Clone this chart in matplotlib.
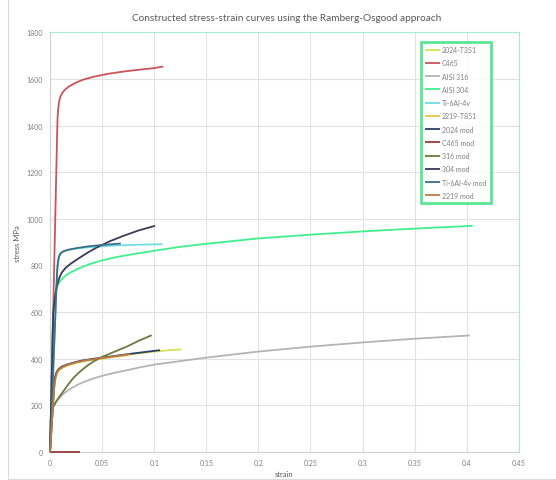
import matplotlib.pyplot as plt
from matplotlib.patches import Rectangle

# data (strain, stress MPa)
strain_2024 = [0, 0.0036, 0.0042, 0.005, 0.006, 0.0075, 0.0095, 0.012, 0.016, 0.022, 0.03, 0.04, 0.05, 0.065, 0.08, 0.1, 0.115, 0.126]
stress_2024 = [0, 260, 295, 320, 336, 348, 357, 364, 371, 379, 388, 396, 403, 411, 420, 431, 437, 440]

strain_c465 = [0, 0.0068, 0.0072, 0.0078, 0.0086, 0.0098, 0.0115, 0.014, 0.018, 0.024, 0.032, 0.042, 0.055, 0.07, 0.085, 0.1, 0.1088]
stress_c465 = [0, 1360, 1430, 1470, 1500, 1522, 1538, 1552, 1567, 1582, 1597, 1609, 1621, 1631, 1639, 1646, 1653]

strain_316 = [0, 0.0009, 0.002, 0.0035, 0.005, 0.007, 0.0096, 0.013, 0.017, 0.022, 0.028, 0.035, 0.042, 0.05,
              0.062, 0.075, 0.087, 0.1, 0.125, 0.15, 0.175, 0.2, 0.25, 0.3, 0.35, 0.403]
stress_316 = [0, 160, 182, 198, 210, 222, 235, 250, 264, 278, 292, 305, 316, 327,
              340, 352, 364, 375, 390, 405, 418, 431, 452, 470, 486, 500]

strain_304 = [0, 0.003, 0.0038, 0.0046, 0.0056, 0.0068, 0.0085, 0.011, 0.015, 0.02, 0.028, 0.038, 0.05, 0.065,
              0.08, 0.1, 0.125, 0.15, 0.2, 0.25, 0.3, 0.35, 0.4056]
stress_304 = [0, 580, 630, 665, 690, 708, 725, 740, 757, 771, 788, 806, 822, 837,
              849, 863, 880, 893, 916, 932, 946, 958, 970]

strain_ti = [0, 0.0062, 0.0068, 0.0074, 0.0082, 0.0092, 0.0105, 0.0125, 0.016, 0.022, 0.03, 0.045, 0.065, 0.085, 0.108]
stress_ti = [0, 710, 770, 805, 828, 843, 852, 859, 865, 870, 875, 881, 886, 889, 891]

strain_2219 = [0, 0.0036, 0.0044, 0.0054, 0.0066, 0.008, 0.01, 0.013, 0.018, 0.025, 0.035, 0.05, 0.065, 0.075]
stress_2219 = [0, 250, 290, 318, 335, 347, 356, 364, 373, 383, 392, 401, 410, 416]

strain_2024m = [0, 0.0036, 0.0042, 0.005, 0.006, 0.0075, 0.0095, 0.012, 0.016, 0.022, 0.03, 0.04, 0.05, 0.065, 0.08, 0.1056]
stress_2024m = [0, 265, 300, 325, 340, 352, 361, 368, 375, 383, 392, 399, 405, 414, 423, 437]

strain_c465m = [0, 0.029]
stress_c465m = [0, 0]

strain_316m = [0, 0.0009, 0.002, 0.0035, 0.005, 0.0075, 0.0096, 0.013, 0.0175, 0.0224, 0.028, 0.035, 0.042, 0.05,
               0.06, 0.0736, 0.085, 0.0976]
stress_316m = [0, 165, 182, 197, 210, 228, 241, 262, 290, 318, 342, 368, 389, 408,
               427, 452, 477, 501]

strain_304m = [0, 0.003, 0.004, 0.0052, 0.0066, 0.0085, 0.011, 0.015, 0.02, 0.027, 0.035, 0.0448, 0.057, 0.0704, 0.085, 0.1008]
stress_304m = [0, 590, 640, 680, 712, 742, 768, 790, 808, 829, 852, 877, 903, 927, 950, 970]

strain_tim = [0, 0.0062, 0.0068, 0.0075, 0.0084, 0.0095, 0.011, 0.0135, 0.018, 0.025, 0.035, 0.05, 0.068]
stress_tim = [0, 715, 775, 812, 835, 848, 856, 862, 868, 874, 881, 888, 894]

strain_2219m = [0, 0.0036, 0.0044, 0.0054, 0.0066, 0.008, 0.01, 0.013, 0.018, 0.025, 0.035, 0.05, 0.065, 0.077]
stress_2219m = [0, 255, 295, 322, 340, 351, 359, 367, 376, 385, 394, 403, 413, 420]

series = [
    ('2024-T351', strain_2024, stress_2024, '#d6e05a'),
    ('C465', strain_c465, stress_c465, '#c9545a'),
    ('AISI 316', strain_316, stress_316, '#b4b4b4'),
    ('AISI 304', strain_304, stress_304, '#3ef08e'),
    ('Ti-6Al-4v', strain_ti, stress_ti, '#6fdde6'),
    ('2219-T851', strain_2219, stress_2219, '#f2c14e'),
    ('2024 mod', strain_2024m, stress_2024m, '#2c3e66'),
    ('C465 mod', strain_c465m, stress_c465m, '#9a3c3c'),
    ('316 mod', strain_316m, stress_316m, '#6b7a3e'),
    ('304 mod', strain_304m, stress_304m, '#3c3a58'),
    ('Ti-6Al-4v mod', strain_tim, stress_tim, '#3a6e8a'),
    ('2219 mod', strain_2219m, stress_2219m, '#b97c48'),
]

xticks = [0, 0.05, 0.1, 0.15, 0.2, 0.25, 0.3, 0.35, 0.4, 0.45]
xticklabels = ['0', '0.05', '0.1', '0.15', '0.2', '0.25', '0.3', '0.35', '0.4', '0.45']
yticks = [0, 200, 400, 600, 800, 1000, 1200, 1400, 1600, 1800]

plt.rcParams['font.family'] = ['Lato', 'DejaVu Sans']

fig = plt.figure(figsize=(5.56, 4.81), dpi=100)
ax = fig.add_axes([0.090, 0.058, 0.843, 0.873])

for name, x, y, c in series:
    ax.plot(x, y, color=c, lw=1.3, label=name, clip_on=False, zorder=3,
            solid_joinstyle='round', solid_capstyle='butt')

ax.set_xlim(0, 0.45)
ax.set_ylim(0, 1800)
ax.set_xticks(xticks)
ax.set_xticklabels(xticklabels)
ax.set_yticks(yticks)
ax.tick_params(labelsize=5, colors='#7f7f7f', length=0, pad=5)
ax.grid(True, color='#e2e2e2', lw=0.8)
ax.set_axisbelow(True)
for s in ['left', 'bottom']:
    ax.spines[s].set_color('#d0d0d0')
for s in ['top', 'right']:
    ax.spines[s].set_color('#a8ecd2')

ax.set_xlabel('strain', fontsize=5.5, color='#595959', labelpad=3)
ax.set_ylabel('stress MPa', fontsize=5.5, color='#595959', labelpad=4)
fig.text(0.515, 0.962, 'Constructed stress-strain curves using the Ramberg-Osgood approach',
         ha='center', va='center', fontsize=7.2, color='#595959')

leg = ax.legend(loc='upper left', bbox_to_anchor=(0.783, 0.985), fontsize=5,
                frameon=True, fancybox=False, handlelength=2.2, handletextpad=0.3,
                labelspacing=0.9, borderpad=0.6, labelcolor='#7f7f7f')
leg.get_frame().set_edgecolor('#33e07a')
leg.get_frame().set_linewidth(2)
leg.set_zorder(5)

# light outer chart border
fig.patches.append(Rectangle((0.014, 0.002), 0.99, 1.2, transform=fig.transFigure,
                             fill=False, edgecolor='#d9d9d9', lw=0.8))

fig.savefig('out.png', dpi=100)
